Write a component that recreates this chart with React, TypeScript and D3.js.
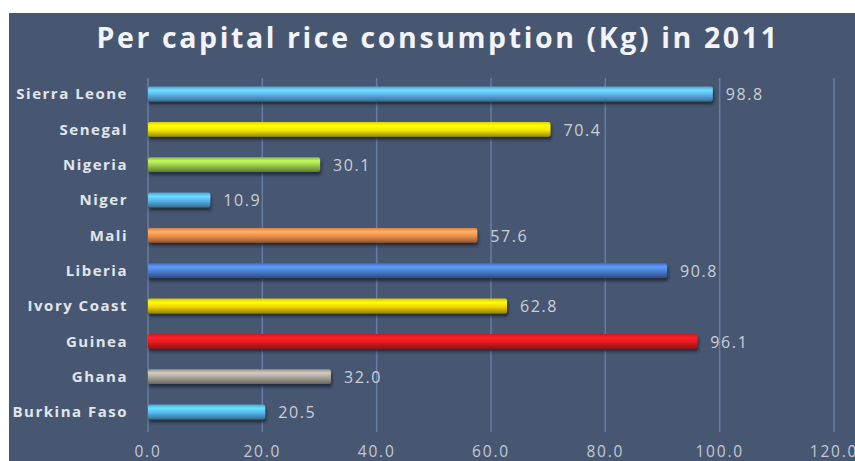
// @ts-nocheck
import { useEffect, useRef } from 'react'
import * as d3 from 'd3'

const countries = [
  'Sierra Leone',
  'Senegal',
  'Nigeria',
  'Niger',
  'Mali',
  'Liberia',
  'Ivory Coast',
  'Guinea',
  'Ghana',
  'Burkina Faso',
]
const consumption = [98.8, 70.4, 30.1, 10.9, 57.6, 90.8, 62.8, 96.1, 32.0, 20.5]
const barColors = [
  '#5cb3ea',
  '#f4ea00',
  '#9ccb4a',
  '#58b2ea',
  '#ec8f4e',
  '#4c7ed0',
  '#f2d600',
  '#e61b20',
  '#aaa59c',
  '#55b7ee',
]
const xTicks = [0, 20, 40, 60, 80, 100, 120]
const title = 'Per capital rice consumption (Kg) in 2011'

export default function App() {
  const svgRef = useRef<any>()
  const width = 855
  const height = 461

  useEffect(() => {
    const svg = d3.select(svgRef.current)
    svg.selectAll('*').remove()

    const x = d3.scaleLinear().domain([0, 120]).range([148, 834])
    const y = d3
      .scaleBand()
      .domain(countries)
      .range([76, 430])
      .paddingInner(0.58)
      .paddingOuter(0.3)

    const defs = svg.append('defs')
    defs
      .append('filter')
      .attr('id', 'shadow')
      .attr('x', '-5%')
      .attr('y', '-50%')
      .attr('width', '110%')
      .attr('height', '200%')
      .append('feDropShadow')
      .attr('dx', 1)
      .attr('dy', 3)
      .attr('stdDeviation', 1.5)
      .attr('flood-color', '#1a2230')
      .attr('flood-opacity', 0.8)

    barColors.forEach((c, i) => {
      const base = d3.color(c)
      const g = defs
        .append('linearGradient')
        .attr('id', 'grad' + i)
        .attr('x1', 0)
        .attr('y1', 0)
        .attr('x2', 0)
        .attr('y2', 1)
      g.append('stop').attr('offset', '0%').attr('stop-color', base.darker(0.3))
      g.append('stop').attr('offset', '25%').attr('stop-color', base.brighter(0.6))
      g.append('stop').attr('offset', '55%').attr('stop-color', base)
      g.append('stop').attr('offset', '100%').attr('stop-color', base.darker(1.4))
    })

    // background
    svg.append('rect').attr('width', width).attr('height', height).attr('fill', '#ffffff')
    svg
      .append('rect')
      .attr('x', 9)
      .attr('y', 13)
      .attr('width', width - 9)
      .attr('height', height - 13)
      .attr('fill', '#475771')

    // title
    svg
      .append('text')
      .attr('x', 438)
      .attr('y', 48)
      .attr('text-anchor', 'middle')
      .attr('font-family', 'Open Sans, sans-serif')
      .attr('font-weight', 700)
      .attr('font-size', 28.5)
      .attr('letter-spacing', 2.6)
      .attr('fill', '#f2f4f7')
      .text(title)

    // grid lines
    svg
      .append('g')
      .selectAll('line')
      .data(xTicks)
      .enter()
      .append('line')
      .attr('x1', (d) => x(d))
      .attr('x2', (d) => x(d))
      .attr('y1', 78)
      .attr('y2', 432)
      .attr('stroke', '#677ca4')
      .attr('stroke-width', 1.5)

    // x tick labels
    svg
      .append('g')
      .selectAll('text')
      .data(xTicks)
      .enter()
      .append('text')
      .attr('x', (d) => x(d))
      .attr('y', 457)
      .attr('text-anchor', 'middle')
      .attr('font-family', 'Open Sans, sans-serif')
      .attr('font-size', 15.5)
      .attr('letter-spacing', 1.8)
      .attr('fill', '#c3cad6')
      .text((d) => d3.format('.1f')(d))

    // bars
    svg
      .append('g')
      .selectAll('rect')
      .data(countries)
      .enter()
      .append('rect')
      .attr('x', x(0))
      .attr('y', (d) => y(d))
      .attr('width', (d, i) => x(consumption[i]) - x(0))
      .attr('height', y.bandwidth())
      .attr('rx', 2)
      .attr('fill', (d, i) => `url(#grad${i})`)
      .attr('filter', 'url(#shadow)')

    // category labels
    svg
      .append('g')
      .selectAll('text')
      .data(countries)
      .enter()
      .append('text')
      .attr('x', 128)
      .attr('y', (d) => y(d) + y.bandwidth() / 2)
      .attr('dy', '0.35em')
      .attr('text-anchor', 'end')
      .attr('font-family', 'Open Sans, sans-serif')
      .attr('font-weight', 700)
      .attr('font-size', 15)
      .attr('letter-spacing', 1.5)
      .attr('fill', '#e1e5ec')
      .text((d) => d)

    // value labels
    svg
      .append('g')
      .selectAll('text')
      .data(countries)
      .enter()
      .append('text')
      .attr('x', (d, i) => x(consumption[i]) + 13)
      .attr('y', (d) => y(d) + y.bandwidth() / 2)
      .attr('dy', '0.4em')
      .attr('font-family', 'Open Sans, sans-serif')
      .attr('font-size', 16)
      .attr('letter-spacing', 1.6)
      .attr('fill', '#cbd0d9')
      .text((d, i) => d3.format('.1f')(consumption[i]))
  }, [])

  return (
    <svg
      ref={svgRef}
      width={width}
      height={height}
      style={{ position: 'absolute', left: 0, top: 0, display: 'block' }}
    ></svg>
  )
}
